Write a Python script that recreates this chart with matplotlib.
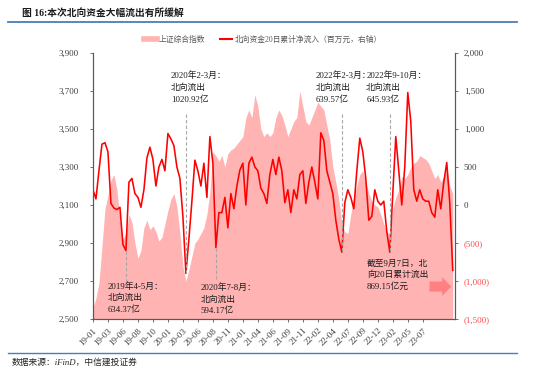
import matplotlib
matplotlib.use("Agg")
import matplotlib.pyplot as plt
import numpy as np
from matplotlib.lines import Line2D
from matplotlib.patches import FancyArrow

plt.rcParams["font.family"] = ["Liberation Serif", "Noto Sans CJK SC"]
plt.rcParams["axes.unicode_minus"] = False

# sampled roughly every 3 px of the source chart (~9-10 trading days)
shci = [2560, 2610, 2690, 2880, 3080, 3150, 3230, 3260, 3180, 3020,
        2920, 2950, 3050, 3010, 2900, 2820, 2860, 2980, 3020, 2970,
        2990, 2960, 2910, 2930, 3000, 3070, 3130, 3160, 3090, 2950,
        2780, 2700, 2760, 2830, 2900, 2920, 2950, 2980, 3050, 3170,
        3380, 3360, 3330, 3360, 3300, 3370, 3390, 3400, 3420, 3440,
        3460, 3560, 3600, 3560, 3680, 3620, 3500, 3460, 3480, 3460,
        3480, 3560, 3600, 3570, 3520, 3460, 3500, 3540, 3560, 3700,
        3620, 3540, 3520, 3560, 3600, 3640, 3620, 3600, 3520, 3440,
        3300, 3220, 3130, 3000, 2960, 2950, 3050, 3150, 3200, 3260,
        3280, 3220, 3160, 3120, 3100, 3090, 3050, 3000, 2960, 2950,
        3080, 3140, 3180, 3250, 3240, 3260, 3300, 3320, 3330, 3360,
        3350, 3340, 3320, 3280, 3240, 3260, 3220, 3250, 3300, 3200,
        3160]

flow20 = [200, 80, 450, 800, 820, 700, 20, -40, -60, -30,
          -520, -600, 300, 350, 150, 100, -30, 200, 620, 760,
          600, 250, 500, 600, 450, 940, 870, 780, 500, 350,
          -150, -900, -450, 50, 590, 450, 250, 550, 100, 900,
          550, -560, -100, -100, 100, -300, 150, -50, 250, 460,
          550, 0, 550, 630, 500, 450, 220, 150, 20, 400,
          600, 400, 630, 450, 30, 200, -100, 200, 80, 400,
          450, 20, 300, 500, 300, 80, 950, 850, 450, 300,
          150, -200, -450, -620, 30, 200, 100, -50, 450, 880,
          700, 350, -200, -150, 200, 50, 0, 50, -350, -620,
          150, 900, 450, 0, 500, 1480, 1100, 200, 50, 200,
          80, 50, 50, -100, -160, 200, -50, 300, 560, 30,
          -860]

tick_labels = ["19-01", "19-03", "19-06", "19-08", "19-10", "20-01", "20-03",
               "20-06", "20-08", "20-11", "21-01", "21-04", "21-06", "21-09",
               "21-11", "22-02", "22-04", "22-07", "22-09", "22-12", "23-02",
               "23-05", "23-07"]

# outflow episodes: (search window in sample index, label)
episodes = [((5, 15), "2019年4-5月：\n北向流出\n634.37亿"),
            ((28, 35), "2020年2-3月：\n北向流出\n1020.92亿"),
            ((38, 45), "2020年7-8月：\n北向流出\n594.17亿"),
            ((78, 88), "2022年2-3月：\n北向流出\n639.57亿"),
            ((95, 102), "2022年9-10月：\n北向流出\n645.93亿")]

PINK = "#FFB3B3"
RED = "#FF0000"
GREY = "#404040"

x = np.arange(len(shci))
flow = np.array(flow20)

fig = plt.figure(figsize=(5.5, 3.69), dpi=100)
ax = fig.add_axes([0.169, 0.1355, 0.658, 0.7209])
ax2 = ax.twinx()

ax.fill_between(x, 2500, shci, color=PINK, lw=0)
ax2.plot(x, flow, color=RED, lw=1.15)

ax.set_ylim(2500, 3900)
ax.set_yticks(np.arange(2500, 3901, 200))
ax.set_yticklabels([f"{v:,}" for v in range(2500, 3901, 200)])
ax2.set_ylim(-1500, 2000)
r_ticks = np.arange(-1500, 2001, 500)
ax2.set_yticks(r_ticks)
ax2.set_yticklabels([f"({-v:,})" if v < 0 else f"{v:,}" for v in r_ticks])

ax.set_xlim(0, 120.7)
ax.set_xticks(np.arange(len(tick_labels)) * 5)
ax.set_xticklabels(tick_labels, rotation=45, ha="right", rotation_mode="anchor",
                   fontsize=5.5, color=GREY)

for a in (ax, ax2):
    a.spines["top"].set_visible(False)
    for s in ("left", "right", "bottom"):
        a.spines[s].set_color("#595959")
        a.spines[s].set_linewidth(0.8)
    a.tick_params(length=2.5, width=0.6, color="#595959", labelsize=6.5,
                  labelcolor=GREY, pad=3)
ax.tick_params(axis="y", pad=8)
ax2.tick_params(axis="y", pad=4)
for lab, v in zip(ax2.get_yticklabels(), r_ticks):
    if v < 0:
        lab.set_color("#FF4D4D")

# dashed markers at each outflow trough
text_pos = [(0.04, 0.14), (0.215, 0.93), (0.298, 0.135),
            (0.615, 0.93), (0.755, 0.93)]
for ((a, b), label), (tx, ty) in zip(episodes, text_pos):
    i = a + int(np.argmin(flow[a:b]))
    if ty < 0.5:
        ax2.plot([i, i], [flow[i], -1000], ls=(0, (3, 2)), color="#A6A6A6", lw=0.8)
    else:
        ax2.plot([i, i], [1200, flow[i]], ls=(0, (3, 2)), color="#A6A6A6", lw=0.8)
    ax2.text(tx, ty, label, transform=ax2.transAxes, fontsize=6.3, color="#1a1a1a",
             va="top", ha="left", linespacing=1.45)

ax2.text(0.757, 0.165, "截至9月7日，北\n向20日累计流出\n869.15亿元", transform=ax2.transAxes,
         fontsize=6.3, color="#1a1a1a", va="center", ha="left", linespacing=1.45)
arrow = FancyArrow(0.93, 0.122, 0.035, 0, width=0.038, head_width=0.07,
                   head_length=0.025, transform=ax2.transAxes, color="#FF8080",
                   lw=0, length_includes_head=False)
ax2.add_patch(arrow)

handles = [Line2D([], [], color=PINK, lw=4),
           Line2D([], [], color=RED, lw=1.5)]
fig.legend(handles, ["上证综合指数", "北向资金20日累计净流入（百万元，右轴）"],
           loc="center", bbox_to_anchor=(0.478, 0.892), ncol=2, frameon=False,
           fontsize=5.6, labelcolor="#595959", handlelength=1.6, columnspacing=1.8,
           handletextpad=0.3)

fig.text(0.04, 0.965, "图 16:本次北向资金大幅流出有所缓解", fontsize=7,
         fontweight="bold", va="center", ha="left", color="#1a1a1a")
fig.add_artist(Line2D([0.015, 0.94], [0.94, 0.94], color="#4A7EBB", lw=1.3))
fig.add_artist(Line2D([0.015, 0.94], [0.043, 0.043], color="#4A7EBB", lw=1.0))
fig.text(0.022, 0.018, "数据来源：iFinD，中信建投证券", fontsize=6.3, style="italic",
         va="center", ha="left", color="#262626")

fig.savefig("out.png", dpi=100)
